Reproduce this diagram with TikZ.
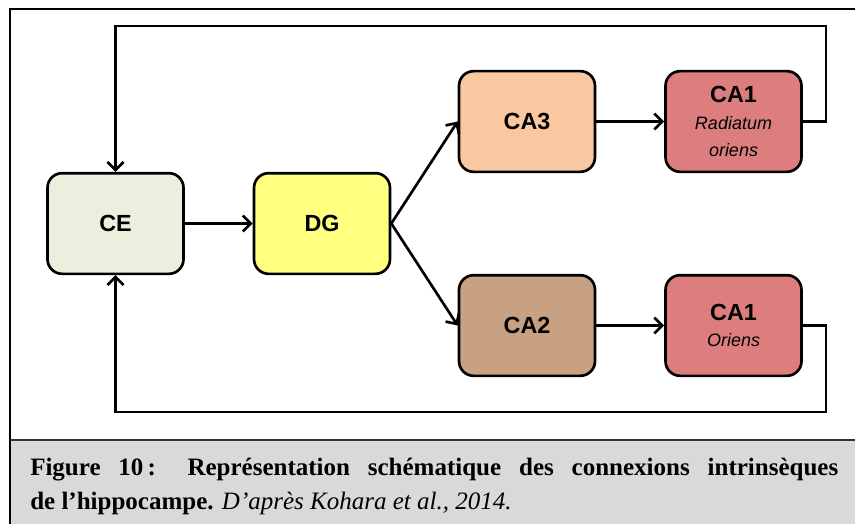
\documentclass[tikz,border=0pt]{standalone}
\usepackage{fontspec}
\setmainfont{Liberation Serif}
\newfontfamily\arialfont{Liberation Sans}
\usepackage{tikz}
\usetikzlibrary{arrows.meta}

\definecolor{ceGreen}{RGB}{235,240,222}
\definecolor{dgYellow}{RGB}{255,255,128}
\definecolor{caPeach}{RGB}{249,200,160}
\definecolor{caBrown}{RGB}{200,160,130}
\definecolor{caRed}{RGB}{221,126,126}
\definecolor{capGray}{RGB}{217,217,217}
\newcommand\layerfont{\fontsize{13.5}{16.5}\selectfont\mdseries\itshape}

\begin{document}
\begin{tikzpicture}[x=0.75pt,y=-0.75pt,
  box/.style={draw,line width=2pt,rounded corners=11pt,minimum width=102pt,minimum height=75.5pt,
    align=center,inner sep=0pt,font=\arialfont\fontsize{17.5}{20}\selectfont\bfseries},
  conn/.style={line width=2pt,-{Straight Barb[length=6pt,width=12pt,line width=2pt]}}]
\useasboundingbox (0,0) rectangle (855,524);
\fill[capGray] (11,440) rectangle (855,524);
\draw[line width=1.5pt] (855,9) -- (10,9) -- (10,524);
\draw[line width=1.2pt,black!80] (10,440) -- (855,440);
\node at (115.5,223.5) [box,fill=ceGreen] (CE) {CE};
\node at (322,223.5) [box,fill=dgYellow] (DG) {DG};
\node at (527,121.5) [box,fill=caPeach] (CA3) {CA3};
\node at (733.5,121.5) [box,fill=caRed] (CA1r) {CA1\\[0pt]\layerfont Radiatum\\\layerfont oriens};
\node at (527,325.5) [box,fill=caBrown] (CA2) {CA2};
\node at (733.5,325.5) [box,fill=caRed] (CA1o) {CA1\\[-1pt]\layerfont Oriens};
\coordinate (tr) at (826,26);
\coordinate (br) at (826,412);
\draw [conn] (CE) -- (DG);
\draw [conn] (DG.east) -- (CA3.west);
\draw [conn] (DG.east) -- (CA2.west);
\draw [conn] (CA3) -- (CA1r);
\draw [conn] (CA2) -- (CA1o);
\draw [conn] (CA1r.east) -| (tr) -| (CE.north);
\draw [conn] (CA1o.east) -| (br) -| (CE.south);
\node [anchor=base west,text width=606pt,align=justify,inner sep=0pt,
  font=\fontsize{18.75}{25.5}\selectfont] at (30,475) (caption)
  {\textbf{Figure 10\,: Représentation schématique des connexions intrinsèques}\linebreak
   \textbf{de l’hippocampe.} \textit{D’après Kohara et al., 2014.}};
\end{tikzpicture}
\end{document}
